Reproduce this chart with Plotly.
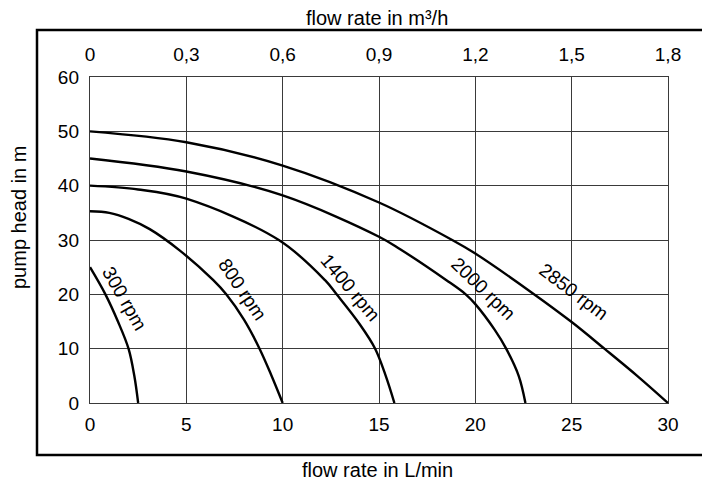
import plotly.graph_objects as go

# pump curves, flow in L/min vs head in m
speeds = ["300 rpm", "800 rpm", "1400 rpm", "2000 rpm", "2850 rpm"]

flow_300 = [0, 0.8, 1.45, 2.0, 2.3, 2.5]
head_300 = [25, 20, 15, 10, 5, 0]

flow_800 = [0, 1, 2, 3.1, 4.65, 6.4, 7.07, 8, 8.8, 9.4, 10]
head_800 = [35.3, 35, 33.9, 32, 28.1, 22.6, 20, 15.3, 10, 5.2, 0]

flow_1400 = [0, 2.5, 5, 9.8, 12.2, 12.8, 14.0, 14.8, 15.35, 15.8]
head_1400 = [40, 39.3, 37.6, 30, 22.6, 20, 14.5, 10, 5, 0]

flow_2000 = [0, 5, 10, 15, 16.1, 18.5, 19.5, 20, 21, 21.6, 22.25, 22.6]
head_2000 = [45, 42.6, 38.2, 30.6, 28.3, 22.6, 20, 18.2, 13.5, 10, 5, 0]

flow_2850 = [0, 5, 10, 15, 18.8, 20, 22.9, 25, 26.7, 28.4, 30]
head_2850 = [50, 48, 43.7, 36.9, 30, 27.5, 20.4, 14.9, 10, 5, 0]

curves = [
    (flow_300, head_300),
    (flow_800, head_800),
    (flow_1400, head_1400),
    (flow_2000, head_2000),
    (flow_2850, head_2850),
]

lmin_ticks = [0, 5, 10, 15, 20, 25, 30]
m3h_ticks = [0, 0.3, 0.6, 0.9, 1.2, 1.5, 1.8]
m3h_labels = ["0", "0,3", "0,6", "0,9", "1,2", "1,5", "1,8"]
head_ticks = [0, 10, 20, 30, 40, 50, 60]

# label placement along each curve (x, y in data units, rotation in deg)
label_place = [
    (1.8, 19.3, 60),
    (7.9, 20.8, 56),
    (13.5, 21.2, 50),
    (20.4, 21.0, 44),
    (25.1, 20.6, 37),
]

FONT = "Liberation Sans, Arial, sans-serif"
GRID = "#3a3a3a"

# the page puts the plot 8px in from the top left corner
OFF = 8
W, H = 710 - OFF, 482 - OFF
# plot area in screen pixels: x 90..668, y 77..403
L, R, T, B = 90, 668, 77, 403


def px(x):
    return (x - L) / (R - L)


def py(y):
    return (B - y) / (B - T)


fig = go.Figure()

for (fx, hy) in curves:
    fig.add_trace(
        go.Scatter(
            x=fx, y=hy,
            mode="lines",
            line=dict(color="black", width=2.4, shape="spline", smoothing=1.0),
            showlegend=False, hoverinfo="skip",
        )
    )

# invisible trace so the top m³/h axis is drawn
fig.add_trace(
    go.Scatter(
        x=[m3h_ticks[0], m3h_ticks[-1]], y=[0, 0],
        xaxis="x2", mode="markers",
        marker=dict(opacity=0), showlegend=False, hoverinfo="skip",
    )
)

for name, (lx, ly, ang) in zip(speeds, label_place):
    fig.add_annotation(
        x=lx, y=ly, text=name, textangle=ang,
        showarrow=False, font=dict(size=19, color="black", family=FONT),
        xref="x", yref="y",
    )

# axis titles
title_font = dict(size=20, color="black", family=FONT)
fig.add_annotation(
    x=px(377), y=py(18), xref="paper", yref="paper",
    xanchor="center", yanchor="middle",
    text="flow rate in m³/h", showarrow=False, font=title_font,
)
fig.add_annotation(
    x=px(377), y=py(470), xref="paper", yref="paper",
    xanchor="center", yanchor="middle",
    text="flow rate in L/min", showarrow=False, font=title_font,
)
fig.add_annotation(
    x=px(19), y=py(218), xref="paper", yref="paper",
    xanchor="center", yanchor="middle",
    text="pump head in m", showarrow=False, textangle=-90, font=title_font,
)

# outer frame
fig.add_shape(
    type="rect", xref="paper", yref="paper",
    x0=px(37), x1=px(725), y0=py(455), y1=py(30),
    line=dict(color="black", width=2.5),
)

fig.update_layout(
    width=W, height=H,
    margin=dict(l=L - OFF, r=W - (R - OFF), t=T - OFF, b=H - (B - OFF), pad=0),
    plot_bgcolor="white",
    paper_bgcolor="white",
    font=dict(family=FONT, size=19, color="black"),
    xaxis=dict(
        range=[0, 30], tickvals=lmin_ticks,
        showgrid=True, gridcolor=GRID, gridwidth=1.4,
        showline=True, linecolor=GRID, linewidth=1.4,
        zeroline=False, ticks="", ticklabelstandoff=4,
        tickfont=dict(size=19),
    ),
    xaxis2=dict(
        range=[0, 1.8], tickvals=m3h_ticks, ticktext=m3h_labels,
        overlaying="x", side="top",
        showgrid=False, showline=True, linecolor=GRID, linewidth=1.4,
        zeroline=False, ticks="", ticklabelstandoff=7,
        tickfont=dict(size=19),
    ),
    yaxis=dict(
        range=[0, 60], tickvals=head_ticks,
        showgrid=True, gridcolor=GRID, gridwidth=1.4,
        showline=True, linecolor=GRID, linewidth=1.4, mirror=True,
        zeroline=False, ticks="", ticklabelstandoff=6,
        tickfont=dict(size=19),
    ),
)

fig.write_html("out.html")
